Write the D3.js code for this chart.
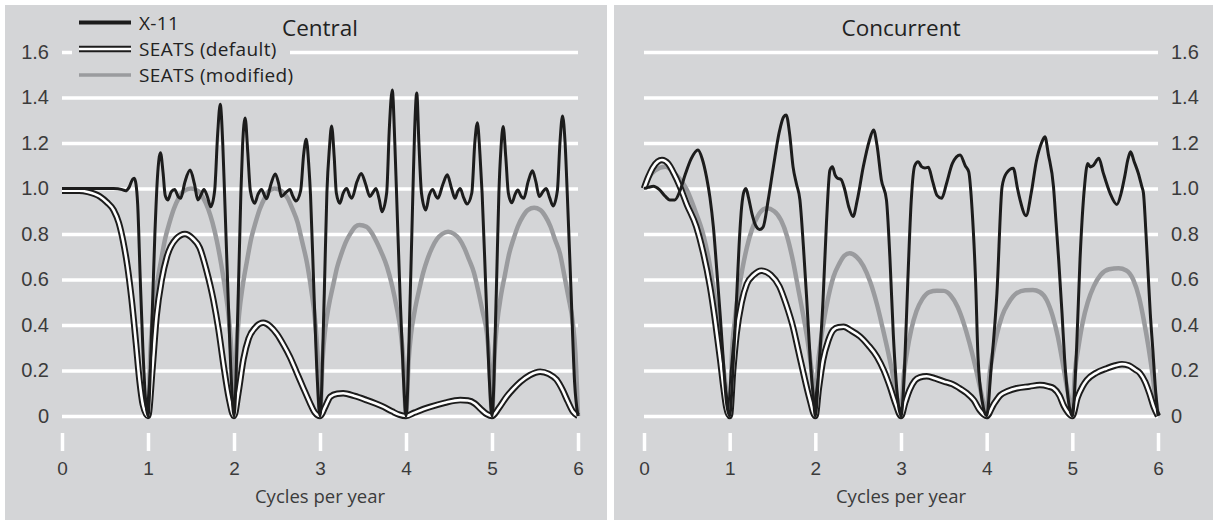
<!DOCTYPE html>
<html>
<head>
<meta charset="utf-8">
<script src="https://cdn.jsdelivr.net/npm/d3@7"></script>
<style>
  body { margin: 0; background: #fff; }
  svg { display: block; font-family: "Open Sans", sans-serif; }
  .tick text { fill: #3b3b3b; }
</style>
</head>
<body>
<svg id="chart" width="1213" height="520"></svg>
<script>
/*************************
 *  data
 *************************/

const panelTitles = ["Central", "Concurrent"]
const seriesNames = ["X-11", "SEATS (default)", "SEATS (modified)"]
const xTicks = [0, 1, 2, 3, 4, 5, 6]
const yTicks = [0, 0.2, 0.4, 0.6, 0.8, 1.0, 1.2, 1.4, 1.6]
const xLabel = "Cycles per year"

// [cycles per year, gain]
const centralX11 = [
  [0,1],[0.2,1],[0.4,1],[0.6,1],[0.7,0.995],[0.74,0.99],[0.78,1.005],[0.82,1.04],[0.84,1.045],[0.86,1.02],[0.88,0.93],[0.91,0.6],[0.94,0.3],[0.97,0.08],[1,0],
  [1.04,0.35],[1.08,0.8],[1.11,1.05],[1.145,1.157],[1.175,1.07],[1.2,0.97],[1.23,0.95],
  [1.27,0.985],[1.31,0.996],[1.35,0.965],[1.38,0.957],[1.43,1.03],[1.49,1.081],[1.54,1.02],[1.58,0.95],[1.62,0.975],[1.65,0.996],[1.69,0.965],[1.73,0.92],
  [1.775,0.99],[1.81,1.24],[1.84,1.37],[1.87,1.19],[1.89,0.98],[1.93,0.54],[1.97,0.15],[2,0],
  [2.05,0.54],[2.08,0.98],[2.1,1.19],[2.13,1.31],[2.16,1.16],[2.19,0.99],[2.24,0.935],
  [2.28,0.975],[2.32,0.996],[2.36,0.965],[2.38,0.955],[2.43,1.02],[2.48,1.064],[2.52,1.02],[2.55,0.965],[2.61,0.985],[2.65,0.996],[2.68,0.97],[2.72,0.945],
  [2.775,0.99],[2.81,1.15],[2.84,1.216],[2.87,1.1],[2.89,0.97],[2.93,0.54],[2.97,0.15],[3,0],
  [3.05,0.54],[3.08,0.98],[3.11,1.18],[3.135,1.275],[3.165,1.14],[3.19,0.98],[3.23,0.935],
  [3.27,0.98],[3.31,1],[3.35,0.965],[3.37,0.957],[3.43,1.03],[3.48,1.066],[3.53,1.02],[3.58,0.965],[3.62,0.985],[3.65,1],[3.69,0.95],[3.72,0.898],
  [3.775,0.98],[3.807,1.27],[3.84,1.433],[3.87,1.2],[3.89,0.98],[3.93,0.54],[3.97,0.17],[4,0],
  [4.05,0.54],[4.08,0.98],[4.1,1.25],[4.125,1.42],[4.15,1.2],[4.18,0.98],[4.23,0.905],
  [4.27,0.97],[4.31,0.996],[4.35,0.965],[4.37,0.957],[4.43,1.02],[4.48,1.06],[4.53,1],[4.57,0.957],[4.6,0.985],[4.63,1],[4.67,0.96],[4.71,0.932],
  [4.765,0.98],[4.8,1.2],[4.83,1.289],[4.86,1.15],[4.885,0.98],[4.93,0.54],[4.97,0.15],[5,0],
  [5.05,0.54],[5.08,0.98],[5.105,1.18],[5.13,1.272],[5.16,1.14],[5.19,0.98],[5.23,0.937],
  [5.27,0.975],[5.3,0.993],[5.34,0.965],[5.37,0.957],[5.42,1.03],[5.47,1.078],[5.51,1.03],[5.55,0.965],[5.6,0.99],[5.63,1],[5.67,0.96],[5.71,0.923],
  [5.76,0.99],[5.79,1.2],[5.82,1.319],[5.85,1.2],[5.875,0.98],[5.92,0.54],[5.96,0.15],[6,0]
]

const centralSeatsDefault = [
  [0,0.99],[0.2,0.99],[0.3,0.985],[0.44,0.965],[0.52,0.94],[0.6,0.905],[0.66,0.85],[0.71,0.77],[0.76,0.66],[0.81,0.51],[0.86,0.32],[0.9,0.16],[0.94,0.05],[1,0],
  [1.05,0.2],[1.1,0.44],[1.16,0.6],[1.22,0.7],[1.33,0.78],[1.43,0.8],[1.52,0.78],[1.6,0.74],[1.68,0.64],[1.76,0.51],[1.82,0.38],[1.88,0.22],[1.94,0.08],[2,0],
  [2.05,0.1],[2.11,0.25],[2.17,0.34],[2.25,0.39],[2.34,0.41],[2.42,0.395],[2.5,0.36],[2.58,0.31],[2.65,0.26],[2.73,0.19],[2.81,0.12],[2.88,0.06],[2.94,0.015],[3,0],
  [3.06,0.04],[3.12,0.085],[3.2,0.098],[3.27,0.1],[3.4,0.088],[3.54,0.07],[3.64,0.056],[3.74,0.04],[3.84,0.02],[3.92,0.006],[4,0],
  [4.1,0.015],[4.2,0.03],[4.28,0.04],[4.45,0.058],[4.63,0.07],[4.72,0.068],[4.8,0.055],[4.87,0.03],[4.94,0.008],[5,0],
  [5.08,0.035],[5.17,0.085],[5.25,0.12],[5.33,0.15],[5.44,0.18],[5.56,0.195],[5.66,0.185],[5.75,0.16],[5.82,0.115],[5.88,0.065],[5.94,0.02],[6,0]
]

const centralSeatsModified = [
  [0,0.99],[0.2,0.99],[0.3,0.985],[0.44,0.965],[0.52,0.94],[0.6,0.905],[0.66,0.85],[0.71,0.77],[0.76,0.66],[0.81,0.51],[0.86,0.32],[0.9,0.16],[0.94,0.05],[1,0],
  [1.03,0.3],[1.06,0.45],[1.1,0.57],[1.15,0.68],[1.2,0.78],[1.25,0.85],[1.3,0.91],[1.36,0.96],[1.42,0.99],[1.5,1],[1.58,0.99],[1.64,0.96],[1.7,0.91],[1.75,0.85],[1.8,0.77],[1.85,0.67],[1.9,0.55],[1.94,0.43],[1.97,0.28],[2,0],
  [2.03,0.3],[2.06,0.45],[2.1,0.57],[2.15,0.68],[2.2,0.78],[2.25,0.85],[2.3,0.91],[2.36,0.96],[2.41,0.99],[2.47,1],[2.55,0.99],[2.62,0.96],[2.68,0.91],[2.74,0.85],[2.79,0.77],[2.85,0.67],[2.9,0.55],[2.94,0.43],[2.97,0.28],[3,0],
  [3.03,0.25],[3.06,0.38],[3.1,0.48],[3.15,0.57],[3.2,0.655],[3.25,0.714],[3.3,0.764],[3.36,0.806],[3.41,0.832],[3.46,0.84],[3.54,0.832],[3.6,0.806],[3.66,0.764],[3.72,0.714],[3.78,0.655],[3.84,0.57],[3.89,0.48],[3.94,0.365],[3.97,0.24],[4,0],
  [4.03,0.24],[4.06,0.365],[4.1,0.46],[4.15,0.55],[4.2,0.63],[4.25,0.69],[4.3,0.737],[4.36,0.778],[4.42,0.8],[4.49,0.81],[4.56,0.8],[4.62,0.778],[4.68,0.737],[4.73,0.69],[4.79,0.63],[4.84,0.55],[4.89,0.46],[4.94,0.365],[4.97,0.24],[5,0],
  [5.03,0.275],[5.06,0.41],[5.1,0.52],[5.15,0.62],[5.2,0.714],[5.25,0.778],[5.3,0.833],[5.36,0.878],[5.42,0.906],[5.49,0.915],[5.56,0.906],[5.62,0.878],[5.68,0.833],[5.73,0.778],[5.79,0.714],[5.84,0.62],[5.89,0.52],[5.94,0.41],[5.97,0.275],[6,0]
]

const concurrentX11 = [
  [0,1],[0.05,1.005],[0.11,1.01],[0.18,0.995],[0.25,0.965],[0.3,0.95],[0.36,0.95],[0.42,0.99],[0.48,1.06],[0.55,1.13],[0.63,1.169],[0.68,1.13],[0.73,1.05],[0.77,0.96],[0.81,0.83],[0.85,0.64],[0.89,0.44],[0.93,0.22],[0.96,0.07],[1,0],
  [1.04,0.22],[1.08,0.51],[1.11,0.75],[1.14,0.92],[1.17,0.99],[1.19,1],[1.22,0.96],[1.26,0.89],[1.3,0.84],[1.35,0.82],[1.39,0.83],[1.45,0.95],[1.51,1.095],[1.58,1.25],[1.63,1.315],[1.66,1.323],[1.7,1.24],[1.74,1.095],[1.78,1.02],[1.82,0.95],[1.86,0.75],[1.9,0.51],[1.94,0.25],[1.98,0.07],[2,0],
  [2.04,0.2],[2.09,0.51],[2.13,0.85],[2.17,1.08],[2.2,1.096],[2.23,1.06],[2.26,1.045],[2.3,1.04],[2.34,1],[2.39,0.92],[2.44,0.877],[2.49,0.95],[2.56,1.096],[2.63,1.21],[2.68,1.257],[2.72,1.19],[2.77,1.04],[2.83,0.95],[2.87,0.7],[2.91,0.36],[2.96,0.08],[3,0],
  [3.04,0.2],[3.08,0.6],[3.12,0.95],[3.16,1.1],[3.2,1.118],[3.24,1.096],[3.28,1.09],[3.32,1.093],[3.37,1.03],[3.42,0.97],[3.475,0.957],[3.53,1.02],[3.6,1.11],[3.69,1.147],[3.75,1.1],[3.79,1.074],[3.83,0.906],[3.87,0.6],[3.9,0.25],[3.95,0.06],[4,0],
  [4.05,0.2],[4.12,0.54],[4.18,1.008],[4.23,1.067],[4.31,1.089],[4.36,1],[4.39,0.95],[4.46,0.88],[4.52,0.98],[4.58,1.12],[4.64,1.2],[4.68,1.227],[4.72,1.15],[4.78,1.008],[4.81,0.85],[4.84,0.69],[4.88,0.45],[4.91,0.25],[4.95,0.08],[5,0],
  [5.05,0.3],[5.09,0.69],[5.14,1],[5.18,1.11],[5.21,1.095],[5.24,1.1],[5.31,1.133],[5.36,1.07],[5.44,0.98],[5.52,0.93],[5.57,0.98],[5.61,1.05],[5.65,1.13],[5.68,1.161],[5.72,1.12],[5.77,1.067],[5.81,1.01],[5.83,0.98],[5.86,0.8],[5.88,0.66],[5.91,0.45],[5.94,0.29],[5.97,0.12],[6,0]
]

const concurrentSeatsDefault = [
  [0,1],[0.05,1.05],[0.1,1.09],[0.16,1.118],[0.21,1.125],[0.28,1.11],[0.35,1.065],[0.42,1.008],[0.5,0.93],[0.61,0.833],[0.69,0.72],[0.77,0.57],[0.83,0.42],[0.89,0.246],[0.93,0.12],[0.96,0.04],[1,0],
  [1.04,0.2],[1.08,0.36],[1.14,0.5],[1.2,0.58],[1.28,0.62],[1.37,0.639],[1.48,0.62],[1.58,0.57],[1.66,0.49],[1.74,0.39],[1.8,0.29],[1.86,0.19],[1.93,0.08],[2,0],
  [2.04,0.12],[2.09,0.246],[2.15,0.33],[2.21,0.378],[2.27,0.39],[2.33,0.392],[2.42,0.375],[2.52,0.35],[2.62,0.31],[2.72,0.26],[2.8,0.2],[2.87,0.13],[2.94,0.05],[3,0],
  [3.05,0.06],[3.1,0.114],[3.16,0.155],[3.22,0.17],[3.3,0.175],[3.4,0.165],[3.5,0.152],[3.6,0.14],[3.7,0.118],[3.77,0.1],[3.85,0.07],[3.92,0.025],[4,0],
  [4.08,0.05],[4.16,0.092],[4.25,0.11],[4.35,0.122],[4.5,0.13],[4.62,0.136],[4.72,0.13],[4.78,0.122],[4.85,0.09],[4.9,0.045],[4.95,0.015],[5,0],
  [5.06,0.08],[5.12,0.13],[5.17,0.158],[5.28,0.19],[5.4,0.209],[5.5,0.222],[5.58,0.228],[5.66,0.222],[5.73,0.205],[5.79,0.188],[5.85,0.15],[5.9,0.1],[5.95,0.04],[6,0]
]

const concurrentSeatsModified = [
  [0,1],[0.06,1.05],[0.13,1.08],[0.25,1.096],[0.35,1.07],[0.5,0.994],[0.6,0.9],[0.69,0.8],[0.76,0.68],[0.83,0.51],[0.89,0.33],[0.95,0.14],[1,0],
  [1.03,0.3],[1.06,0.42],[1.1,0.54],[1.15,0.65],[1.2,0.74],[1.26,0.82],[1.33,0.88],[1.43,0.913],[1.52,0.9],[1.6,0.86],[1.67,0.79],[1.74,0.68],[1.8,0.56],[1.86,0.44],[1.91,0.33],[1.95,0.22],[1.98,0.12],[2,0],
  [2.03,0.22],[2.06,0.32],[2.1,0.42],[2.15,0.52],[2.21,0.61],[2.28,0.67],[2.34,0.705],[2.4,0.715],[2.48,0.7],[2.56,0.66],[2.64,0.59],[2.72,0.49],[2.79,0.38],[2.85,0.28],[2.91,0.17],[2.96,0.07],[3,0],
  [3.03,0.17],[3.07,0.28],[3.12,0.38],[3.18,0.46],[3.25,0.515],[3.33,0.545],[3.42,0.551],[3.5,0.55],[3.58,0.53],[3.66,0.48],[3.73,0.41],[3.8,0.32],[3.86,0.23],[3.92,0.13],[3.96,0.06],[4,0],
  [4.03,0.17],[4.07,0.27],[4.12,0.36],[4.18,0.44],[4.26,0.5],[4.35,0.54],[4.45,0.553],[4.54,0.554],[4.62,0.545],[4.7,0.51],[4.77,0.44],[4.83,0.35],[4.88,0.25],[4.93,0.14],[4.97,0.06],[5,0],
  [5.03,0.19],[5.07,0.3],[5.12,0.41],[5.18,0.5],[5.25,0.57],[5.33,0.62],[5.43,0.645],[5.54,0.649],[5.63,0.64],[5.71,0.6],[5.78,0.52],[5.84,0.41],[5.89,0.3],[5.94,0.17],[5.97,0.08],[6,0]
]

/*************************
 *  layout
 *************************/

const bg = "#d4d5d7"
const ink = "#1c1c1c"
const grey = "#9a9b9e"

const panels = [
  {title: panelTitles[0], box: [5, 5, 602, 515], range: [62, 578], side: "left",
   x11: centralX11, def: centralSeatsDefault, mod: centralSeatsModified},
  {title: panelTitles[1], box: [614, 5, 599, 515], range: [644, 1158], side: "right",
   x11: concurrentX11, def: concurrentSeatsDefault, mod: concurrentSeatsModified}
]

const y = d3.scaleLinear().domain([0, 1.6]).range([416, 52])
const svg = d3.select("#chart")
const titleLayer = []

panels.forEach(p => {
  const x = d3.scaleLinear().domain([0, 6]).range(p.range)
  const g = svg.append("g")

  g.append("rect")
    .attr("x", p.box[0]).attr("y", p.box[1])
    .attr("width", p.box[2]).attr("height", p.box[3])
    .attr("fill", bg)

  // gridlines + y labels
  const yAxis = (p.side == "left" ? d3.axisLeft(y) : d3.axisRight(y))
    .tickValues(yTicks)
    .tickSize(-(p.range[1] - p.range[0]))
    .tickPadding(13)
    .tickFormat(d => d === 0 ? "0" : d3.format(".1f")(d))

  g.append("g")
    .attr("transform", `translate(${p.side == "left" ? p.range[0] : p.range[1]},0)`)
    .call(yAxis)
    .call(a => a.select(".domain").remove())
    .call(a => a.selectAll(".tick line").attr("stroke", "#fff").attr("stroke-width", 3.5))
    .call(a => a.selectAll(".tick text").attr("font-size", 20).attr("font-family", null))

  // x ticks below the plot
  g.append("g")
    .attr("transform", "translate(0,433)")
    .call(d3.axisBottom(x).tickValues(xTicks).tickSize(18).tickPadding(11).tickFormat(d3.format("d")))
    .call(a => a.select(".domain").remove())
    .call(a => a.selectAll(".tick line").attr("stroke", "#fff").attr("stroke-width", 3.5))
    .call(a => a.selectAll(".tick text").attr("font-size", 19).attr("font-family", null))

  g.append("text")
    .attr("x", (p.range[0] + p.range[1]) / 2).attr("y", 503)
    .attr("text-anchor", "middle")
    .attr("font-size", 18.5).attr("fill", "#3b3b3b")
    .text(xLabel)

  titleLayer.push({x: (p.range[0] + p.range[1]) / 2, text: p.title})

  const line = d3.line()
    .x(d => x(d[0]))
    .y(d => y(d[1]))
    .curve(d3.curveMonotoneX)

  g.append("path").datum(p.mod)
    .attr("d", line).attr("fill", "none")
    .attr("stroke", grey).attr("stroke-width", 4.5)

  g.append("path").datum(p.def)
    .attr("d", line).attr("fill", "none")
    .attr("stroke", ink).attr("stroke-width", 6.5)
  g.append("path").datum(p.def)
    .attr("d", line).attr("fill", "none")
    .attr("stroke", "#fff").attr("stroke-width", 2.6)

  g.append("path").datum(p.x11)
    .attr("d", line).attr("fill", "none")
    .attr("stroke", ink).attr("stroke-width", 3)
    .attr("stroke-linejoin", "round")
})

/*************************
 *  legend (left panel)
 *************************/

const legend = svg.append("g")
legend.append("rect")
  .attr("x", 72).attr("y", 8).attr("width", 218).attr("height", 80)
  .attr("fill", bg)

const legendRows = [22.5, 49, 75]
seriesNames.forEach((name, i) => {
  const ly = legendRows[i]
  if (i == 0) {
    legend.append("line").attr("x1", 79).attr("x2", 131).attr("y1", ly).attr("y2", ly)
      .attr("stroke", ink).attr("stroke-width", 4)
  } else if (i == 1) {
    legend.append("line").attr("x1", 79).attr("x2", 131).attr("y1", ly).attr("y2", ly)
      .attr("stroke", ink).attr("stroke-width", 6.5)
    legend.append("line").attr("x1", 79).attr("x2", 131).attr("y1", ly).attr("y2", ly)
      .attr("stroke", "#fff").attr("stroke-width", 2.6)
  } else {
    legend.append("line").attr("x1", 79).attr("x2", 131).attr("y1", ly).attr("y2", ly)
      .attr("stroke", grey).attr("stroke-width", 3.5)
  }
  legend.append("text")
    .attr("x", 139).attr("y", ly + 7)
    .attr("font-size", 19).attr("fill", "#222")
    .attr("letter-spacing", 0.35)
    .text(name)
})

// panel titles sit above the legend box
svg.selectAll(".panelTitle")
  .data(titleLayer)
  .join("text")
  .attr("class", "panelTitle")
  .attr("x", d => d.x).attr("y", 36)
  .attr("text-anchor", "middle")
  .attr("font-size", 22.5).attr("fill", "#222")
  .text(d => d.text)
</script>
</body>
</html>
